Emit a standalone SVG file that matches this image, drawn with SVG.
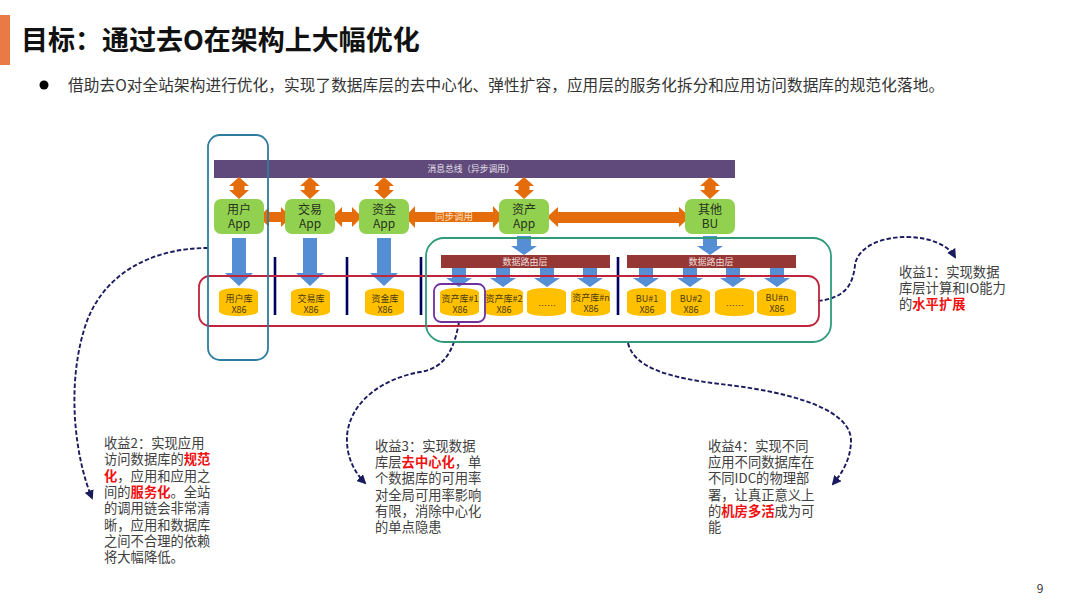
<svg xmlns="http://www.w3.org/2000/svg" xmlns:xlink="http://www.w3.org/1999/xlink" width="1080" height="608" viewBox="0 0 1080 608">
<style>
text{font-family:"Noto Sans CJK SC","Liberation Sans",sans-serif}
.app{fill:#92D050}
.applabel{font-size:12px;fill:#26331c;text-anchor:middle}
.cyl{fill:#FFC000}
.dblabel{font-size:9px;fill:#4a3a10;text-anchor:middle}
.bar{fill:#953735}
.barlabel{font-size:9px;fill:#f2dcdb;text-anchor:middle}
.orange{fill:#E46C0A}
.blue{fill:#558ED5}
.sep{stroke:#000060;stroke-width:2.6;fill:none}
.frame{fill:none;stroke-width:1.8}
.curve{fill:none;stroke:#1a1a5e;stroke-width:1.9;stroke-dasharray:4.5 2.2}
.note{font-size:13.3px;fill:#404040}
.hl{fill:#f01010;font-weight:700}
</style>
<defs>
<path id="cylshape" class="cyl" d="M0 4Q3 0 19.500 0Q36 0 39 4V24Q36 28 19.500 28Q3 28 0 24Z"/>
<rect id="appshape" class="app" width="50" height="35" rx="7"/>
<path id="bigdown" class="blue" d="M-7 0H7V35H14L0 48L-14 35H-7Z"/>
<path id="smalldown" class="blue" d="M-7 0H7V10H13L0 19L-13 10H-7Z"/>
<path id="vdouble" class="orange" d="M0 0L10 9H5.500V13H10L0 22L-10 13H-5.500V9H-10Z"/>
<marker id="tip" viewBox="0 0 10 10" refX="8" refY="5" markerWidth="5" markerHeight="5" orient="auto"><path d="M0 0L10 5L0 10Z" fill="#1a1a5e"/></marker>
</defs>

<g id="header">
<rect x="0" y="15" width="10" height="50" fill="#E97A45"/>
<text x="21" y="50" font-size="27" font-weight="700" fill="#111">目标&#xFF1A;通过去O在架构上大幅优化</text>
<circle cx="44" cy="85" r="4.500" fill="#000"/>
<text x="68" y="90.500" font-size="15.600" fill="#333" textLength="876">借助去O对全站架构进行优化&#xFF0C;实现了数据库层的去中心化、弹性扩容&#xFF0C;应用层的服务化拆分和应用访问数据库的规范化落地。</text>
</g>

<g id="bus">
<rect x="214" y="160" width="521" height="18" fill="#604A7B"/>
<text x="471" y="172" font-size="8.700" fill="#e6e0ec" text-anchor="middle">消息总线&#xFF08;异步调用&#xFF09;</text>
</g>

<g id="connectors">
<use xlink:href="#vdouble" href="#vdouble" x="239" y="177"/>
<use xlink:href="#vdouble" href="#vdouble" x="310" y="177"/>
<use xlink:href="#vdouble" href="#vdouble" x="384" y="177"/>
<use xlink:href="#vdouble" href="#vdouble" x="524" y="177"/>
<use xlink:href="#vdouble" href="#vdouble" x="710" y="177"/>
<path class="orange" d="M259 217L269 207V212H281V207L291 217L281 227V222H269V227Z"/>
<path class="orange" d="M332 217L342 207V212H352V207L362 217L352 227V222H342V227Z"/>
<path class="orange" d="M405 217L415 206V212H493V206L503 217L493 228V222H415V228Z"/>
<path class="orange" d="M547 217L558 207V212H679V207L690 217L679 227V223H558V227Z"/>
<use xlink:href="#bigdown" href="#bigdown" x="239" y="238"/>
<use xlink:href="#bigdown" href="#bigdown" x="310" y="238"/>
<use xlink:href="#bigdown" href="#bigdown" x="384" y="238"/>
<use xlink:href="#smalldown" href="#smalldown" x="524" y="236"/>
<use xlink:href="#smalldown" href="#smalldown" x="710" y="236"/>
<use xlink:href="#smalldown" href="#smalldown" x="459" y="268"/>
<use xlink:href="#smalldown" href="#smalldown" x="503" y="268"/>
<use xlink:href="#smalldown" href="#smalldown" x="547" y="268"/>
<use xlink:href="#smalldown" href="#smalldown" x="590" y="268"/>
<use xlink:href="#smalldown" href="#smalldown" x="646" y="268"/>
<use xlink:href="#smalldown" href="#smalldown" x="690" y="268"/>
<use xlink:href="#smalldown" href="#smalldown" x="733" y="268"/>
<use xlink:href="#smalldown" href="#smalldown" x="777" y="268"/>
<path class="sep" d="M275 257V315M347 257V315M421 257V315M618 257V315"/>
<path class="curve" marker-end="url(#tip)" d="M208 248C150 248 100 275 84 330C66 390 76 460 92 498"/>
<path class="curve" marker-end="url(#tip)" d="M459 322C454 350 445 368 420 372C385 378 350 400 347 436C346 456 354 472 365 483"/>
<path class="curve" marker-end="url(#tip)" d="M628 343C634 368 670 378 720 384C775 390 850 405 851 440C851 458 843 472 833 484"/>
<path class="curve" marker-end="url(#tip)" d="M818 301C845 298 853 285 855 265C858 245 885 237 905 237C930 237 948 245 955 257"/>
</g>

<g id="app-user"><use xlink:href="#appshape" href="#appshape" x="214" y="199"/><text class="applabel" x="239" y="214">用户</text><text class="applabel" x="239" y="228">App</text></g>
<g id="app-trade"><use xlink:href="#appshape" href="#appshape" x="285" y="199"/><text class="applabel" x="310" y="214">交易</text><text class="applabel" x="310" y="228">App</text></g>
<g id="app-fund"><use xlink:href="#appshape" href="#appshape" x="359" y="199"/><text class="applabel" x="384" y="214">资金</text><text class="applabel" x="384" y="228">App</text></g>
<g id="app-asset"><use xlink:href="#appshape" href="#appshape" x="499" y="199"/><text class="applabel" x="524" y="214">资产</text><text class="applabel" x="524" y="228">App</text></g>
<g id="app-other"><use xlink:href="#appshape" href="#appshape" x="685" y="199"/><text class="applabel" x="710" y="214">其他</text><text class="applabel" x="710" y="228">BU</text></g>
<text id="sync-label" x="454" y="220" font-size="9.500" fill="#fbe0c8" text-anchor="middle">同步调用</text>

<g id="router-1"><rect class="bar" x="441" y="255" width="169" height="13"/><text class="barlabel" x="525" y="264.500">数据路由层</text></g>
<g id="router-2"><rect class="bar" x="627" y="255" width="169" height="13"/><text class="barlabel" x="711" y="264.500">数据路由层</text></g>

<g id="db-user"><use xlink:href="#cylshape" href="#cylshape" x="219" y="288"/><text class="dblabel" x="239" y="302">用户库</text><text class="dblabel" x="239" y="313">X86</text></g>
<g id="db-trade"><use xlink:href="#cylshape" href="#cylshape" x="291" y="288"/><text class="dblabel" x="311" y="302">交易库</text><text class="dblabel" x="311" y="313">X86</text></g>
<g id="db-fund"><use xlink:href="#cylshape" href="#cylshape" x="365" y="288"/><text class="dblabel" x="385" y="302">资金库</text><text class="dblabel" x="385" y="313">X86</text></g>
<g id="db-asset1"><use xlink:href="#cylshape" href="#cylshape" x="440" y="288"/><text class="dblabel" x="460" y="302">资产库#1</text><text class="dblabel" x="460" y="313">X86</text></g>
<g id="db-asset2"><use xlink:href="#cylshape" href="#cylshape" x="484" y="288"/><text class="dblabel" x="504" y="302">资产库#2</text><text class="dblabel" x="504" y="313">X86</text></g>
<g id="db-asset-more"><use xlink:href="#cylshape" href="#cylshape" x="527" y="288"/><text class="dblabel" x="547" y="309">……</text></g>
<g id="db-assetn"><use xlink:href="#cylshape" href="#cylshape" x="571" y="288"/><text class="dblabel" x="591" y="301">资产库#n</text><text class="dblabel" x="591" y="312">X86</text></g>
<g id="db-bu1"><use xlink:href="#cylshape" href="#cylshape" x="627" y="288"/><text class="dblabel" x="647" y="302">BU#1</text><text class="dblabel" x="647" y="313">X86</text></g>
<g id="db-bu2"><use xlink:href="#cylshape" href="#cylshape" x="671" y="288"/><text class="dblabel" x="691" y="302">BU#2</text><text class="dblabel" x="691" y="313">X86</text></g>
<g id="db-bu-more"><use xlink:href="#cylshape" href="#cylshape" x="715" y="288"/><text class="dblabel" x="735" y="309">……</text></g>
<g id="db-bun"><use xlink:href="#cylshape" href="#cylshape" x="757" y="288"/><text class="dblabel" x="777" y="301">BU#n</text><text class="dblabel" x="777" y="312">X86</text></g>

<g id="frames">
<rect class="frame" x="199" y="276" width="620" height="50" rx="11" stroke="#C0243C"/>
<rect class="frame" x="426" y="238" width="405" height="104" rx="18" stroke="#2F9B7B"/>
<rect class="frame" x="208" y="135" width="60" height="225" rx="12" stroke="#2E7D9E"/>
<rect class="frame" x="434" y="284" width="51" height="38" rx="7" stroke="#7030A0"/>
</g>

<g id="note1">
<text class="note" x="899" y="277">收益1&#xFF1A;实现数据</text>
<text class="note" x="899" y="293">库层计算和IO能力</text>
<text class="note" x="899" y="309">的<tspan class="hl">水平扩展</tspan></text>
</g>
<g id="note2">
<text class="note" x="104" y="448">收益2&#xFF1A;实现应用</text>
<text class="note" x="104" y="464.300">访问数据库的<tspan class="hl">规范</tspan></text>
<text class="note" x="104" y="480.600"><tspan class="hl">化</tspan>&#xFF0C;应用和应用之</text>
<text class="note" x="104" y="496.900">间的<tspan class="hl">服务化</tspan>。全站</text>
<text class="note" x="104" y="513.200">的调用链会非常清</text>
<text class="note" x="104" y="529.500">晰&#xFF0C;应用和数据库</text>
<text class="note" x="104" y="545.800">之间不合理的依赖</text>
<text class="note" x="104" y="562.100">将大幅降低。</text>
</g>
<g id="note3">
<text class="note" x="375" y="451">收益3&#xFF1A;实现数据</text>
<text class="note" x="375" y="467.200">库层<tspan class="hl">去中心化</tspan>&#xFF0C;单</text>
<text class="note" x="375" y="483.400">个数据库的可用率</text>
<text class="note" x="375" y="499.600">对全局可用率影响</text>
<text class="note" x="375" y="515.800">有限&#xFF0C;消除中心化</text>
<text class="note" x="375" y="532">的单点隐患</text>
</g>
<g id="note4">
<text class="note" x="708" y="451">收益4&#xFF1A;实现不同</text>
<text class="note" x="708" y="467.200">应用不同数据库在</text>
<text class="note" x="708" y="483.400">不同IDC的物理部</text>
<text class="note" x="708" y="499.600">署&#xFF0C;让真正意义上</text>
<text class="note" x="708" y="515.800">的<tspan class="hl">机房多活</tspan>成为可</text>
<text class="note" x="708" y="532">能</text>
</g>
<text id="page" x="1040" y="593" font-size="12" fill="#333" text-anchor="middle">9</text>
</svg>
